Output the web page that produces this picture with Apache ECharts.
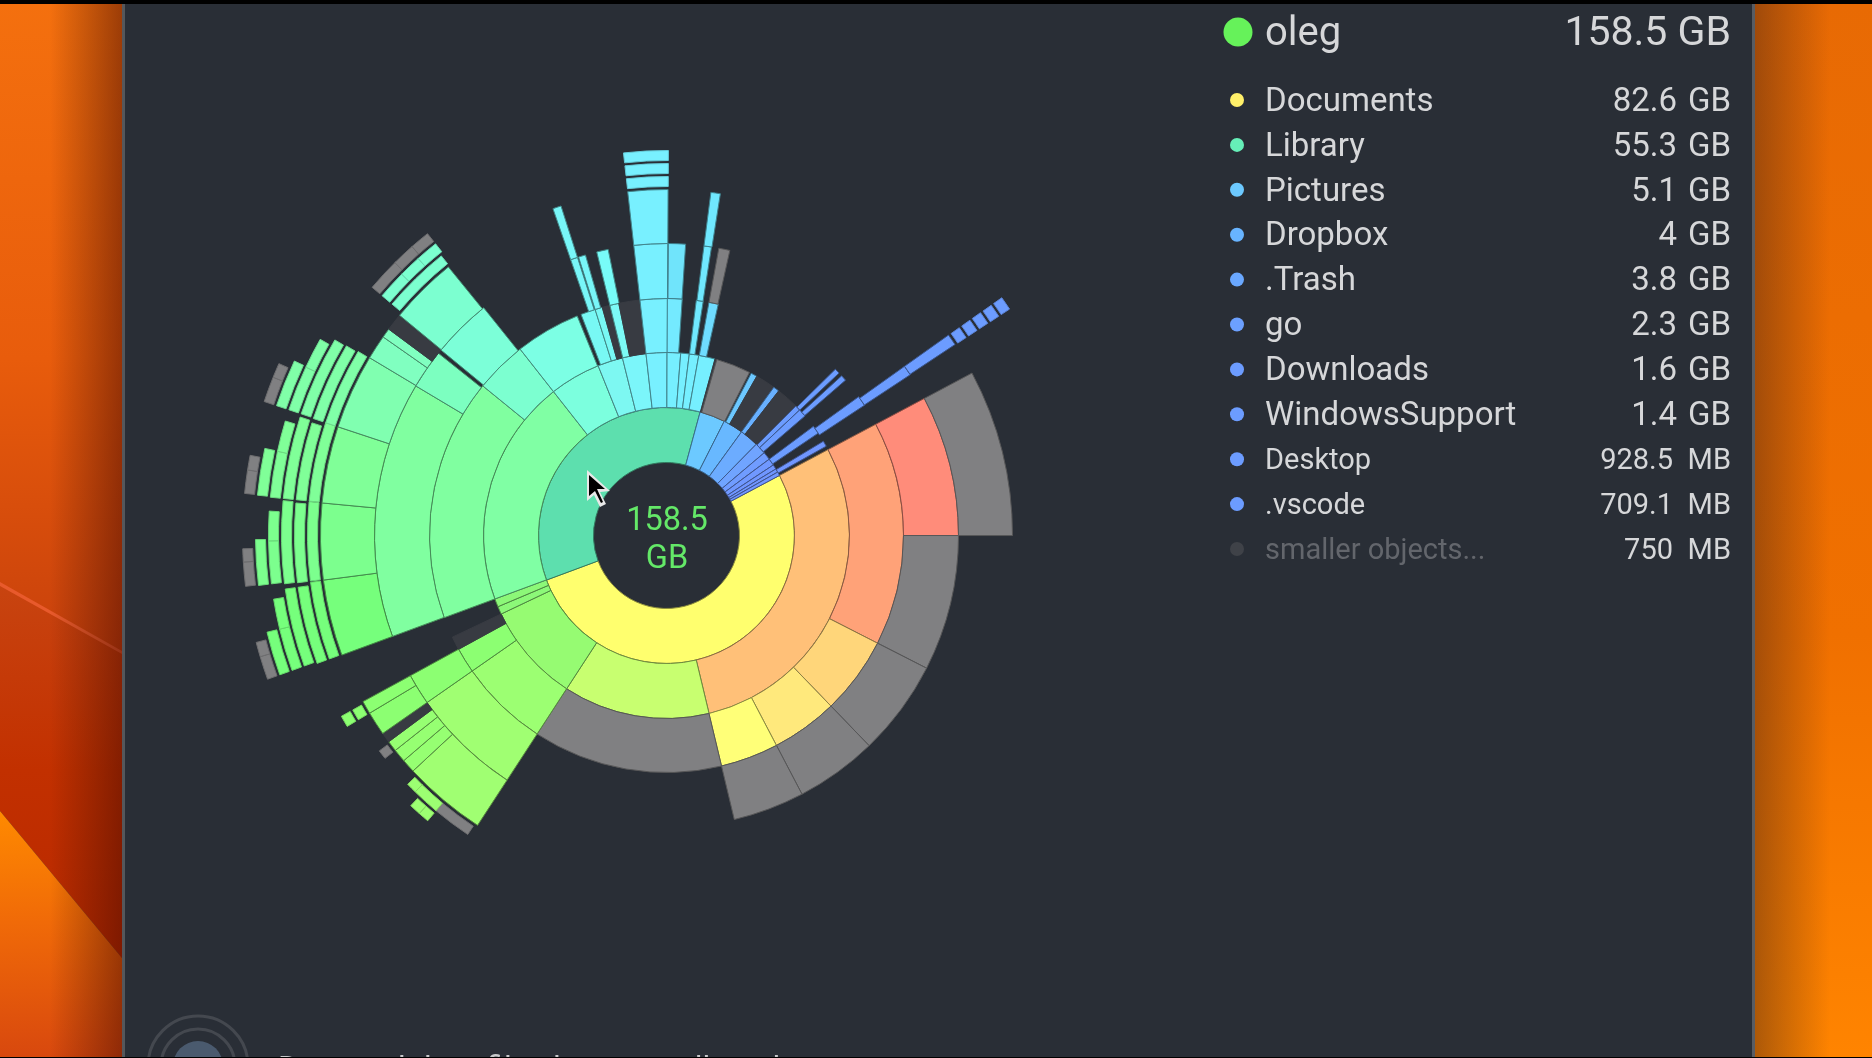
<!DOCTYPE html>
<html>
<head>
<meta charset="utf-8">
<title>oleg</title>
<script src="https://cdn.jsdelivr.net/npm/echarts@6/dist/echarts.min.js"></script>
<style>
html, body { margin: 0; padding: 0; background: #000; }
#main { width: 1872px; height: 1058px; }
</style>
</head>
<body>
<div id="main"></div>
<script>
// legend rows
const rootName = 'oleg';
const rootValue = '158.5';
const rootUnit = 'GB';
const itemNames = ['Documents', 'Library', 'Pictures', 'Dropbox', '.Trash', 'go', 'Downloads', 'WindowsSupport', 'Desktop', '.vscode', 'smaller objects...'];
const itemValues = ['82.6', '55.3', '5.1', '4', '3.8', '2.3', '1.6', '1.4', '928.5', '709.1', '750'];
const itemUnits = ['GB', 'GB', 'GB', 'GB', 'GB', 'GB', 'GB', 'GB', 'MB', 'MB', 'MB'];

// sizes in GB, ring by ring, clockwise from the start of Documents.
// a null colour means empty space on that ring
const ring1 = [82.6, 55.3, 5.1, 4, 3.8, 2.3, 1.6, 1.4, 0.93, 0.71, 0.75];
const ring2 = [46.03, 20.48, 13.88, 1.10, 1.15, 31.76, 7.14, 3.52, 3.30, 2.91, 1.89, 1.19, 1.32, 2.29, 0.26, 4.85, 0.26, 0.88, 2.78, 0.84, 3.17, 0.75, 1.10, 1.67, 1.15, 1.50, 0.79];
const ring3 = [24.23, 8.37, 7.18, 6.26, 20.48, 9.69, 2.73, 1.45, 2.25, 26.17, 5.59, 7.05, 0.44, 1.59, 0.79, 0.84, 0.97, 2.25, 2.95, 1.59, 1.50, 0.75, 0.62, 1.01, 14.45, 0.57, 0.40, 0.62, 2.07, 1.10];
const ring4 = [12.33, 11.89, 8.37, 7.18, 6.26, 20.48, 9.69, 2.73, 3.74, 22.47, 3.44, 0.35, 5.20, 8.63, 0.62, 0.62, 1.10, 1.01, 2.20, 2.95, 0.09, 1.50, 1.59, 0.66, 0.57, 0.97, 18.41, 0.88];
const ring5 = [12.33, 54.18, 6.17, 1.01, 0.97, 0.79, 0.75, 1.76, 0.97, 3.74, 5.64, 5.64, 5.68, 5.55, 1.81, 0.70, 1.28, 5.02, 8.77, 0.62, 4.93, 2.95, 3.08, 0.70, 20.0, 0.84];
const ring6 = [66.74, 2.78, 1.98, 0.75, 2.42, 0.66, 2.64, 0.79, 3.96, 5.55, 0.09, 5.59, 0.04, 5.64, 5.51, 4.10, 4.85, 14.23, 2.95, 23.79, 0.84];
const ring7 = [69.51, 0.75, 0.79, 6.92, 0.79, 3.92, 5.33, 0.31, 5.42, 0.26, 5.33, 0.31, 5.42, 3.96, 1.98, 1.54, 1.54, 14.23, 2.95, 23.79, 0.84];
const ring8 = [82.81, 5.20, 0.35, 5.46, 0.18, 5.46, 0.22, 5.33, 3.92, 2.29, 1.54, 1.32, 14.23, 2.95, 23.79, 0.84];
const ring9 = [82.73, 2.73, 1.94, 1.06, 2.73, 1.89, 0.88, 2.95, 1.98, 0.75, 2.91, 1.98, 50.53, 0.84];
const ring10 = [82.73, 2.73, 2.91, 2.82, 2.82, 2.91, 2.64, 2.95, 52.55, 0.84];
const ring11 = [82.73, 1.41, 0.88, 3.39, 1.45, 0.79, 3.39, 1.41, 0.88, 3.22, 1.54, 0.88];

// colours
const _ = null;
const GRAY = '#808082', DIM = '#383b42', BLUE = '#6c9cff', CYAN = '#78f0ff', TEAL = '#7cffd0';
const A = '#76ff7c', B = '#7cff8e', C = '#80ff98', D = '#80ffa8';
const colors1 = ['#ffff6e', '#5ddfae', '#6cc9ff', '#68b8ff', '#6cacff', '#70a4ff', '#709cff', '#7098ff', '#7096ff', '#7096ff', '#7096ff'];
const colors2 = ['#ffc078', '#c8ff70', '#96fb72', '#8cf878', '#8cf878', '#80ffa4', '#7cffde', '#7df8f2', '#7bf6fa', CYAN, '#76efff', '#76efff', '#76efff', '#76efff', DIM, GRAY, _, '#6cc8ff', DIM, '#68b0ff', DIM, BLUE, BLUE, _, BLUE, _, '#7096ff'];
const colors3 = ['#ffa278', '#ffd67a', '#ffe97c', '#ffff78', GRAY, '#9cff72', '#8cff72', DIM, _, '#80ffa0', TEAL, '#7cffe4', _, '#78f8f4', '#78f8f4', DIM, '#7cfaf6', DIM, CYAN, '#74eaff', _, '#70e8ff', _, '#6fdcff', _, BLUE, _, BLUE, _, BLUE];
const colors4 = ['#ff8c7a', GRAY, GRAY, GRAY, GRAY, _, '#a0ff72', '#8cff72', _, '#80ffa0', '#7cffc0', _, '#7cffd8', _, '#78f6f8', '#78f6f8', _, '#78fcf8', _, CYAN, _, '#70e4fb', _, '#70e8ff', _, GRAY, _, BLUE];
const colors5 = [GRAY, _, '#a0ff72', '#96ff72', '#96ff72', '#96ff72', DIM, '#8cff72', '#8cff72', _, A, B, C, '#80ffb0', '#80ffc0', '#80ffc0', DIM, TEAL, _, '#78f6f8', _, CYAN, _, '#70e8ff', _, BLUE];
const colors6 = [_, GRAY, '#9cff72', '#9cff72', _, GRAY, _, '#8cff72', _, A, _, B, _, C, D, _, TEAL, _, CYAN, _, BLUE];
const colors7 = [_, '#9cff72', '#9cff72', _, '#8cff72', _, A, _, B, _, C, _, D, _, TEAL, TEAL, TEAL, _, CYAN, _, BLUE];
const colors8 = [_, A, _, B, _, C, _, D, _, GRAY, GRAY, GRAY, _, CYAN, _, BLUE];
const colors9 = [_, A, A, _, B, B, _, C, C, _, D, D, _, BLUE];
const colors10 = [_, A, _, B, _, C, _, D, _, BLUE];
const colors11 = [_, GRAY, GRAY, _, GRAY, GRAY, _, GRAY, GRAY, _, GRAY, GRAY];

const rings = [ring1, ring2, ring3, ring4, ring5, ring6, ring7, ring8, ring9, ring10, ring11];
const ringColors = [colors1, colors2, colors3, colors4, colors5, colors6, colors7, colors8, colors9, colors10, colors11];
const ringRadii = [[73, 128], [128, 183], [183, 237], [237, 292], [292, 346], [349, 359], [362, 372], [375, 385], [388, 398], [401, 411], [414, 424]];

const CLEAR = 'rgba(0,0,0,0)';

function shade(color, k) {
    const c = echarts.color.parse(color);
    return 'rgb(' + Math.round(c[0] * k) + ',' + Math.round(c[1] * k) + ',' + Math.round(c[2] * k) + ')';
}

function makeNode(value, color, r) {
    // the wide rings have a dark hairline in their own hue, the thin ones almost none
    const k = r > 4 ? 0.85 : (color === GRAY ? 0.68 : 0.55);
    return {
        value: value,
        itemStyle: {
            color: color,
            borderColor: color === DIM ? DIM : shade(color, k),
            borderWidth: 1
        },
        start: 0, end: 0, cursor: 0, children: []
    };
}

function gapNode(value) {
    return { value: value, itemStyle: { color: CLEAR, borderWidth: 0 } };
}

// the rings are flat lists, the sunburst wants a tree: hang each piece on the
// piece of the ring below it that holds its midpoint, filling with empty nodes
function buildTree() {
    let below = null;
    let top = [];
    rings.forEach(function (values, r) {
        let pos = 0;
        const here = [];
        values.forEach(function (v, i) {
            const color = ringColors[r][i];
            if (color) {
                const node = makeNode(v, color, r);
                node.start = pos;
                node.end = pos + v;
                node.cursor = pos;
                here.push(node);
                if (below) {
                    const mid = pos + v / 2;
                    const parent = below.find(function (p) { return mid >= p.start && mid <= p.end; });
                    if (parent) {
                        if (pos - parent.cursor > 0) {
                            parent.children.push(gapNode(pos - parent.cursor));
                        }
                        parent.children.push(node);
                        parent.cursor = pos + v;
                    }
                } else {
                    top.push(node);
                }
            }
            pos += v;
        });
        below = here;
    });
    return top;
}

const levels = [{}].concat(ringRadii.map(function (rr) { return { r0: rr[0], r: rr[1] }; }));

// text and dots of the list on the right
const graphics = [];
const TEXT = '#d6d7d9';
const FONT = 'Roboto, "Noto Sans", sans-serif';

function addText(x, y, str, size, align, fill, weight) {
    graphics.push({
        type: 'text', z: 10, x: x, y: y,
        style: { text: str, font: (weight || 400) + ' ' + size + 'px ' + FONT, fill: fill || TEXT, textAlign: align || 'left', textVerticalAlign: 'middle' }
    });
}

function addPoly(points, fill, z) {
    graphics.push({ type: 'polygon', z: z === undefined ? -10 : z, silent: true, shape: { points: points }, style: { fill: fill } });
}

function grad(x0, y0, x1, y1, stops) {
    return new echarts.graphic.LinearGradient(x0, y0, x1, y1, stops.map(function (s) { return { offset: s[0], color: s[1] }; }));
}

// wallpaper, left strip
addPoly([[0, 0], [122, 0], [122, 653], [0, 584]], grad(0, 0, 0, 1, [[0, '#f4700e'], [0.55, '#e85c0c'], [1, '#c8400c']]));
addPoly([[0, 584], [122, 653], [122, 958], [0, 811]], grad(0, 0, 0, 1, [[0, '#c84410'], [0.5, '#c23000'], [1, '#b82800']]));
addPoly([[0, 811], [122, 958], [122, 1058], [0, 1058]], grad(0, 0, 0, 1, [[0, '#ff8a00'], [0.45, '#f06a08'], [1, '#d8480e']]));
addPoly([[0, 582], [122, 651], [122, 654], [0, 586]], '#e85a2c', -9);
addPoly([[50, 0], [122, 0], [122, 1058], [50, 1058]], grad(0, 0, 1, 0, [[0, 'rgba(70,20,0,0)'], [1, 'rgba(70,10,0,0.5)']]), -8);
// wallpaper, right strip
addPoly([[1755, 0], [1872, 0], [1872, 1058], [1755, 1058]], grad(0, 0, 0, 1, [[0, '#e86a04'], [0.6, '#f07000'], [1, '#ff8400']]));
addPoly([[1755, 0], [1830, 0], [1830, 1058], [1755, 1058]], grad(0, 0, 1, 0, [[0, 'rgba(60,30,20,0.42)'], [1, 'rgba(60,30,20,0)']]), -8);
// window
addPoly([[122, 0], [1755, 0], [1755, 1058], [122, 1058]], '#292e36', -7);
addPoly([[122, 0], [125, 0], [125, 1058], [122, 1058]], '#55575b', -6);
addPoly([[1752, 0], [1755, 0], [1755, 1058], [1752, 1058]], '#585c63', -6);

// drop zone at the bottom edge
[50, 37].forEach(function (r) {
    graphics.push({ type: 'circle', z: -5, silent: true, shape: { cx: 198, cy: 1066, r: r }, style: { fill: 'none', stroke: '#44484f', lineWidth: 3 } });
});
graphics.push({ type: 'circle', z: -5, silent: true, shape: { cx: 198, cy: 1066, r: 25 }, style: { fill: '#4a5a6e' } });
addText(278, 1070, 'Drag and drop files here to collect them', 32, 'left', '#c8cacc');

// black bars over everything
addPoly([[0, 0], [1872, 0], [1872, 4], [0, 4]], '#000', 30);
addPoly([[0, 1057], [1872, 1057], [1872, 1058], [0, 1058]], '#000', 30);

// list
graphics.push({ type: 'circle', z: 10, silent: true, shape: { cx: 1238, cy: 32, r: 14.5 }, style: { fill: '#66f25a' } });
addText(1265, 35, rootName, 40);
addText(1731, 35, rootValue + ' ' + rootUnit, 41, 'right');

const dotColors = ['#fff06a', '#66efb8', '#6cc9ff', '#68b4ff', '#6aa8ff', '#6ca0ff', '#6c9cff', '#6c9cff', '#6c9cff', '#6c9cff', '#3f4248'];
itemNames.forEach(function (name, i) {
    const y = 100 + i * 44.9;
    const isMB = itemUnits[i] === 'MB';
    const size = isMB ? 29 : 33;
    graphics.push({ type: 'circle', z: 10, silent: true, shape: { cx: 1237, cy: y, r: 7 }, style: { fill: dotColors[i] } });
    addText(1265, y + 2.5, name, size, 'left', i === itemNames.length - 1 ? '#63666c' : TEXT);
    addText(isMB ? 1673 : 1677, y + 2.5, itemValues[i], size, 'right');
    addText(1731, y + 2.5, itemUnits[i], size, 'right');
});

// total in the hole
const centreValue = '158.5';
const centreUnit = 'GB';
addText(667, 521.5, centreValue, 32.5, 'center', '#64e868');
addText(667, 559.5, centreUnit, 32.5, 'center', '#64e868');

// mouse pointer
addPoly([[587, 470], [587, 501], [594, 495], [600, 507], [606, 504], [600, 492], [610, 491]], '#e8e8e8', 20);
addPoly([[589, 475], [589, 496], [595, 491], [601, 503], [603, 502], [597, 489], [605, 489]], '#000', 21);

let myChart = echarts.init(document.getElementById('main'));
myChart.setOption({
    animation: false,
    backgroundColor: '#292e36',
    graphic: { elements: graphics },
    series: [{
        type: 'sunburst',
        center: [666.5, 535.5],
        startAngle: 28,
        clockwise: true,
        sort: null,
        silent: true,
        nodeClick: false,
        emphasis: { focus: 'none' },
        label: { show: false },
        levels: levels,
        data: buildTree()
    }]
});
</script>
</body>
</html>
